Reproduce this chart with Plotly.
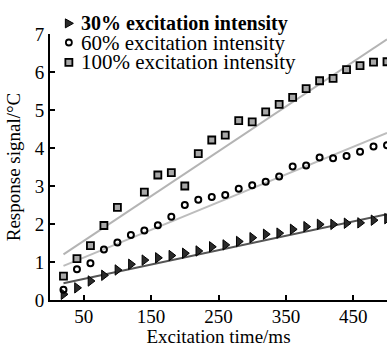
import plotly.graph_objects as go

# ---- data ----
time_ms = [20, 40, 60, 80, 100, 120, 140, 160, 180, 200, 220, 240, 260,
           280, 300, 320, 340, 360, 380, 400, 420, 440, 460, 480, 500]

signal_30 = [0.15, 0.32, 0.50, 0.65, 0.79, 0.94, 1.05, 1.11, 1.17, 1.23, 1.29, 1.40, 1.45,
             1.54, 1.64, 1.73, 1.76, 1.86, 1.93, 1.99, 1.99, 2.02, 2.03, 2.10, 2.14]
signal_60 = [0.27, 0.81, 0.97, 1.33, 1.51, 1.71, 1.83, 1.97, 2.19, 2.50, 2.64, 2.71, 2.76,
             2.93, 3.02, 3.11, 3.25, 3.51, 3.54, 3.75, 3.73, 3.79, 3.90, 4.04, 4.07]
signal_100 = [0.63, 1.09, 1.43, 1.96, 2.44, None, 2.84, 3.29, 3.35, 3.00, 3.85, 4.21, 4.34,
              4.72, 4.69, 4.95, 5.15, 5.33, 5.56, 5.77, 5.83, 6.06, 6.17, 6.26, 6.27]

fit_time = [20, 500]
fit_30 = [0.44, 2.26]
fit_60 = [0.90, 4.40]
fit_100 = [1.20, 6.86]

legend_labels = ["<b>30% excitation intensity</b>",
                 "60% excitation intensity",
                 "100% excitation intensity"]
legend_sizes = [20, 21, 21]
x_ticks = [50, 150, 250, 350, 450]
y_ticks = [0, 1, 2, 3, 4, 5, 6, 7]

FONT = "Liberation Serif"

fig = go.Figure()

# fitted lines
fig.add_trace(go.Scatter(x=fit_time, y=fit_100, mode="lines",
                         line=dict(color="#b4b4b4", width=2), showlegend=False, hoverinfo="skip"))
fig.add_trace(go.Scatter(x=fit_time, y=fit_60, mode="lines",
                         line=dict(color="#bdbdbd", width=2), showlegend=False, hoverinfo="skip"))
fig.add_trace(go.Scatter(x=fit_time, y=fit_30, mode="lines",
                         line=dict(color="#555555", width=2), showlegend=False, hoverinfo="skip"))

# data points
fig.add_trace(go.Scatter(x=time_ms, y=signal_30, mode="markers", name="30% excitation intensity",
                         marker=dict(symbol="triangle-right", size=9, color="#2a2a2a",
                                     line=dict(color="black", width=1)),
                         showlegend=False))
fig.add_trace(go.Scatter(x=time_ms, y=signal_60, mode="markers", name="60% excitation intensity",
                         marker=dict(symbol="circle-open", size=6, color="black",
                                     line=dict(color="black", width=2)),
                         showlegend=False))
fig.add_trace(go.Scatter(x=time_ms, y=signal_100, mode="markers", name="100% excitation intensity",
                         marker=dict(symbol="square", size=7, color="#a8a8a8",
                                     line=dict(color="black", width=1.8)),
                         showlegend=False))

# ---- legend drawn by hand (keys + labels) ----
row_y = [1.040, 0.968, 0.893]
key_x = 0.056
text_x = 0.087
for i, lab in enumerate(legend_labels):
    fig.add_annotation(x=text_x, y=row_y[i], xref="paper", yref="paper", text=lab,
                       showarrow=False, xanchor="left", yanchor="middle",
                       font=dict(family=FONT, size=legend_sizes[i], color="black"))

# triangle key
fig.add_shape(type="path", xref="paper", yref="paper", xsizemode="pixel", ysizemode="pixel",
              xanchor=key_x, yanchor=row_y[0], path="M -3.5,4.5 L 4.5,0 L -3.5,-4.5 Z",
              fillcolor="#2a2a2a", line=dict(color="black", width=1))
# circle key
fig.add_shape(type="circle", xref="paper", yref="paper", xsizemode="pixel", ysizemode="pixel",
              xanchor=key_x, yanchor=row_y[1], x0=-3, x1=3, y0=-3, y1=3,
              fillcolor="white", line=dict(color="black", width=1.8))
# square key
fig.add_shape(type="rect", xref="paper", yref="paper", xsizemode="pixel", ysizemode="pixel",
              xanchor=key_x, yanchor=row_y[2], x0=-3.5, x1=3.5, y0=-3.5, y1=3.5,
              fillcolor="#a8a8a8", line=dict(color="black", width=1.8))

axis_font = dict(family=FONT, size=19, color="black")
fig.update_xaxes(range=[0, 500], tickvals=x_ticks, ticks="inside", ticklen=5, tickwidth=1.5,
                 tickcolor="black", showline=True, linecolor="black", linewidth=2,
                 showgrid=False, zeroline=False, tickfont=axis_font, ticklabelstandoff=-2,
                 title=dict(text="Excitation time/ms", font=axis_font, standoff=2))
fig.update_yaxes(range=[0, 7], tickvals=y_ticks, ticks="inside", ticklen=5, tickwidth=1.5,
                 tickcolor="black", showline=True, linecolor="black", linewidth=2,
                 showgrid=False, zeroline=False, tickfont=axis_font,
                 title=dict(text="Response signal/°C", font=axis_font, standoff=9))

fig.update_layout(width=387, height=347, margin=dict(l=50, r=0, t=34, b=47),
                  paper_bgcolor="white", plot_bgcolor="white", showlegend=False)

fig.write_html("out.html", config={"displayModeBar": False},
               post_script="document.body.style.margin='0';document.body.style.overflow='hidden';")
